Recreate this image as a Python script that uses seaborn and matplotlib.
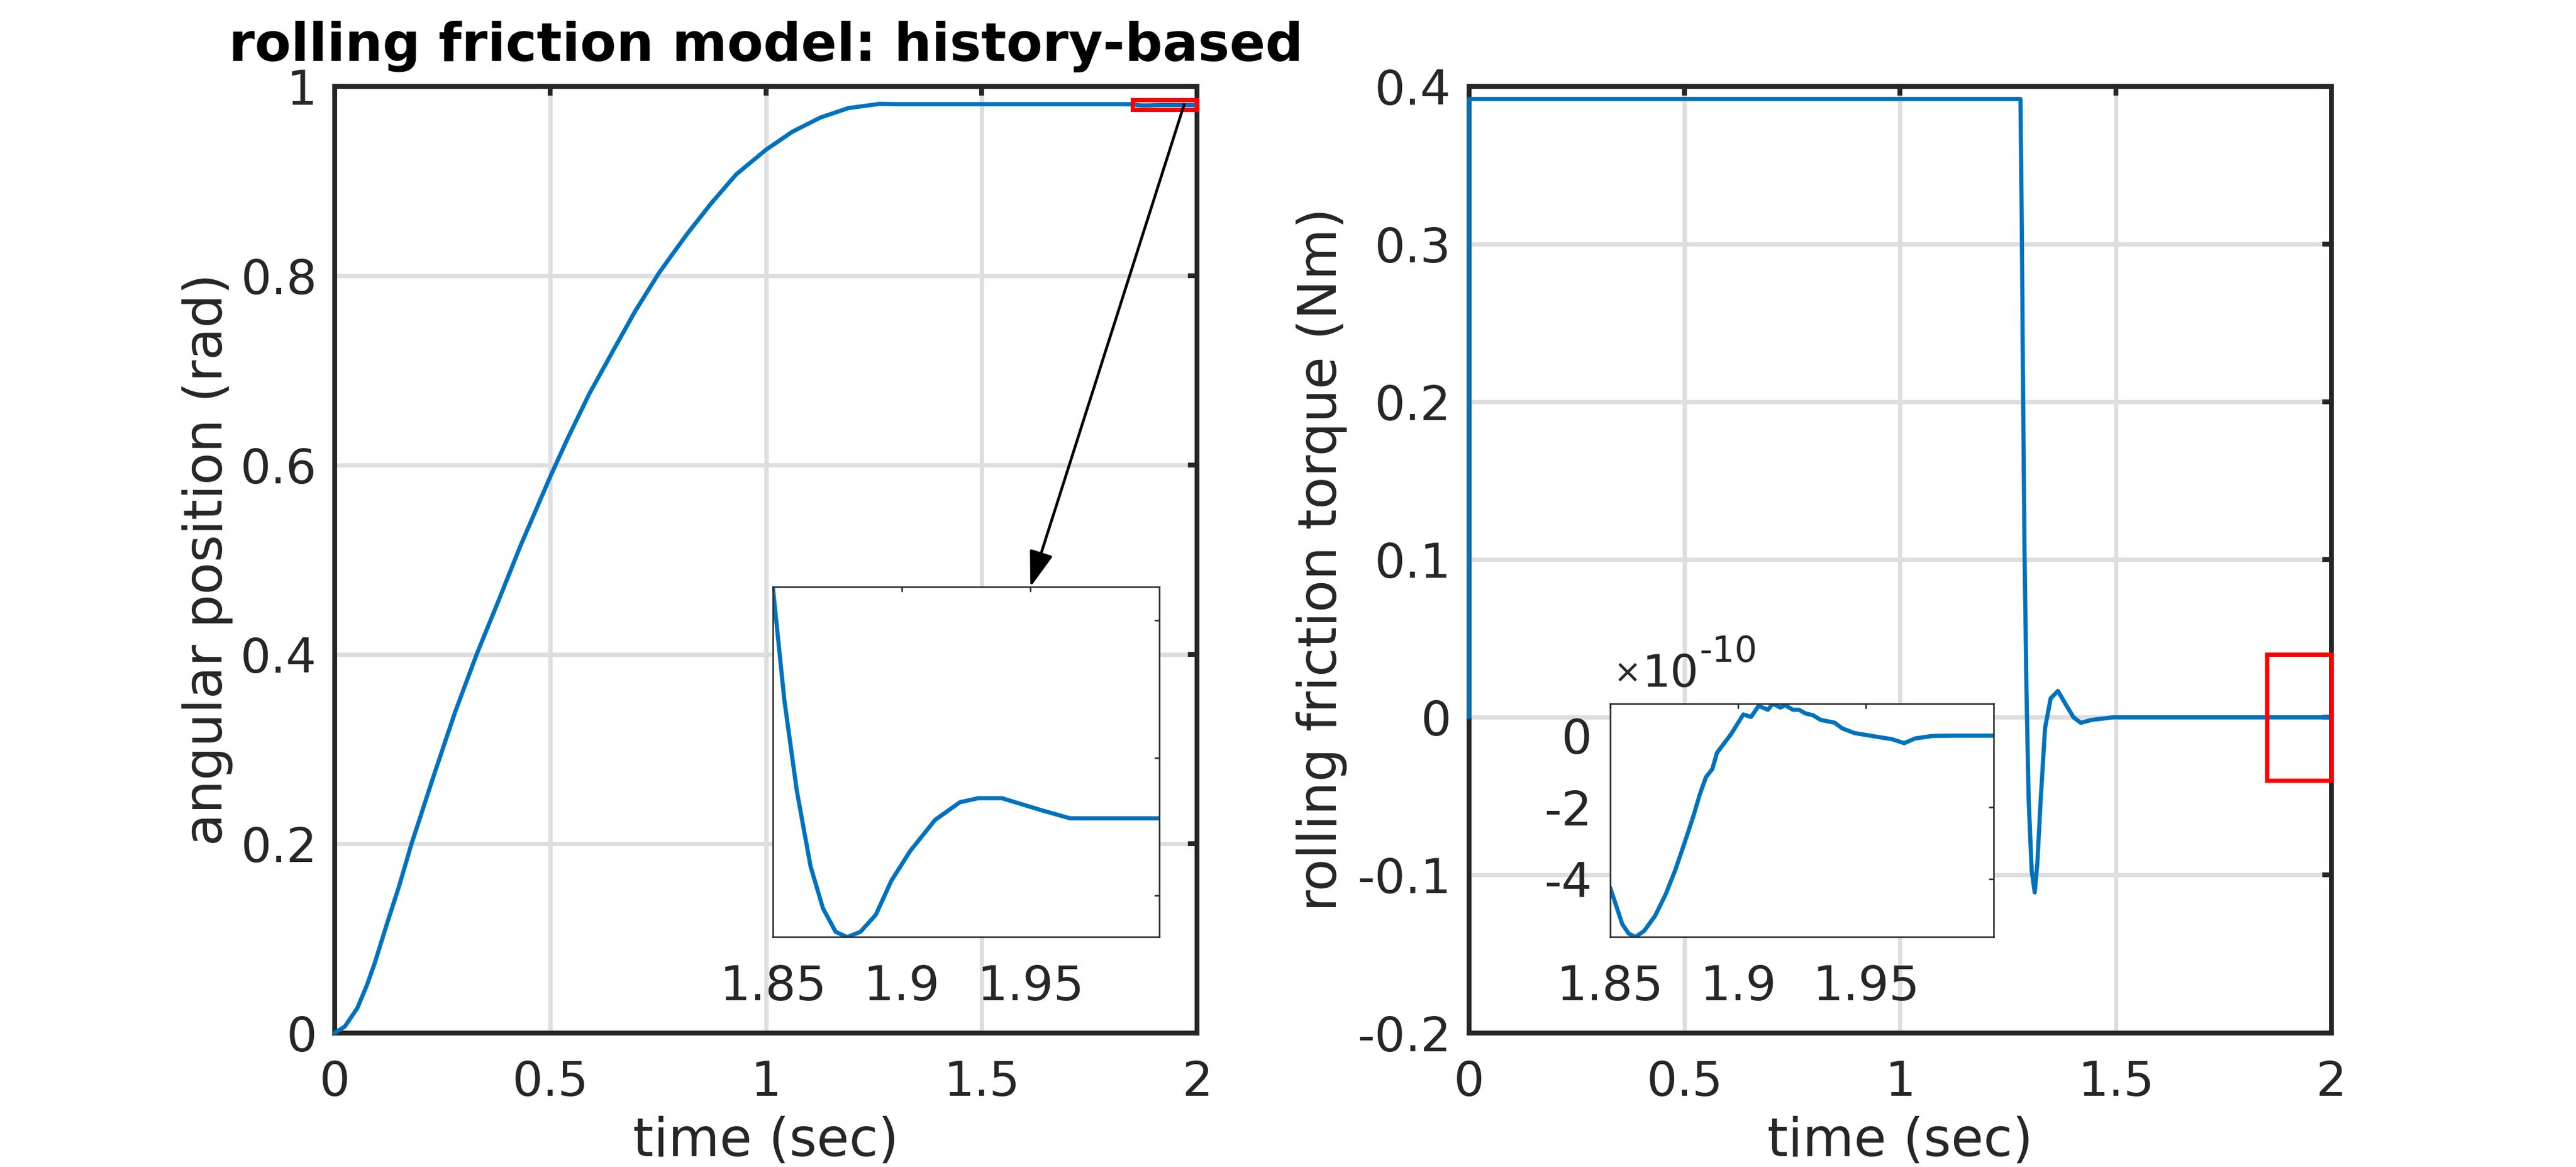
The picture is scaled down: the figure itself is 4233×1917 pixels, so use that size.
import matplotlib
matplotlib.use("Agg")
import matplotlib.pyplot as plt
from matplotlib.patches import Rectangle
import numpy as np
import pandas as pd
import seaborn as sns

# ---- data ----
# angular position (rad), coarse part of the run
pos_time = [0, 0.023, 0.052, 0.074, 0.092, 0.120, 0.149, 0.178, 0.231, 0.279, 0.329,
            0.380, 0.43, 0.5, 0.541, 0.590, 0.647, 0.696, 0.752, 0.817, 0.874, 0.931,
            1.0, 1.061, 1.126, 1.191, 1.264, 1.3, 1.5, 1.7, 1.82]
pos_value = [0, 0.0066, 0.026, 0.050, 0.073, 0.114, 0.155, 0.200, 0.274, 0.339, 0.400,
             0.457, 0.514, 0.588, 0.629, 0.675, 0.722, 0.762, 0.803, 0.844, 0.877, 0.907,
             0.933, 0.952, 0.967, 0.977, 0.9815, 0.9812, 0.9812, 0.9812, 0.9812]
# angular position, zoomed window 1.85..2 s
pos_zoom_time = [1.85, 1.8545, 1.8593, 1.8647, 1.8695, 1.8744, 1.8789, 1.884, 1.890,
                 1.896, 1.9033, 1.913, 1.9226, 1.9298, 1.9389, 1.954, 1.9654, 2.0]
pos_zoom_value = [0.981120, 0.980709, 0.980382, 0.980105, 0.979954, 0.979869,
                  0.979850, 0.979869, 0.979931, 0.980054, 0.980162, 0.980275,
                  0.980339, 0.980354, 0.980354, 0.980311, 0.980281, 0.980281]

# rolling friction torque (Nm), coarse part
trq_time = [0, 0, 1.275, 1.279, 1.2821, 1.2853, 1.2885, 1.293, 1.298, 1.305, 1.312,
            1.318, 1.326, 1.336, 1.349, 1.366, 1.383, 1.402, 1.419, 1.443, 1.494, 1.84]
trq_value = [0, 0.392, 0.392, 0.392, 0.312, 0.2, 0.104, 0.017, -0.052, -0.097, -0.111,
             -0.093, -0.052, -0.007, 0.012, 0.0167, 0.0087, 0, -0.0035, -0.0017, 0, 0]
# torque, zoomed window, in units of 1e-10 Nm
trq_zoom_time = [1.85, 1.8518, 1.8548, 1.8573, 1.8599, 1.8633, 1.8676, 1.8718, 1.8754,
                 1.8791, 1.8827, 1.8851, 1.8875, 1.89, 1.8918, 1.8973, 1.9021, 1.9051,
                 1.9081, 1.9117, 1.9136, 1.9166, 1.9184, 1.9215, 1.9239, 1.9263, 1.9293,
                 1.9323, 1.9378, 1.9408, 1.9456, 1.9541, 1.9602, 1.965, 1.9692, 1.9759,
                 1.9844, 2.0]
trq_zoom_e10 = [-4.23, -4.61, -5.26, -5.52, -5.62, -5.45, -5.03, -4.42, -3.77, -3.0,
                -2.22, -1.64, -1.16, -0.93, -0.48, 0.04, 0.59, 0.52, 0.83, 0.72, 0.89,
                0.78, 0.85, 0.72, 0.72, 0.62, 0.57, 0.44, 0.36, 0.20, 0.07, -0.03, -0.10,
                -0.21, -0.08, -0.01, 0.0, 0.0]

time_ticks = [0, 0.5, 1, 1.5, 2]
time_labels = ['0', '0.5', '1', '1.5', '2']
pos_ticks = [0, 0.2, 0.4, 0.6, 0.8, 1]
pos_labels = ['0', '0.2', '0.4', '0.6', '0.8', '1']
trq_ticks = [-0.2, -0.1, 0, 0.1, 0.2, 0.3, 0.4]
trq_labels = ['-0.2', '-0.1', '0', '0.1', '0.2', '0.3', '0.4']
zoom_ticks = [1.85, 1.9, 1.95]
zoom_labels = ['1.85', '1.9', '1.95']
pos_zoom_ticks = [0.98, 0.9805, 0.981]
trq_zoom_ticks = [-4, -2, 0]
trq_zoom_labels = ['-4', '-2', '0']

BLUE = '#0072BD'
DARK = '#262626'
GRID = '#dedede'

sns.set_style('white')
plt.rcParams['font.family'] = ['DejaVu Sans']
plt.rcParams['axes.unicode_minus'] = False

TICK_FS = 19
LABEL_FS = 20.8
LW = 1.65

pos_df = pd.DataFrame({'time': pos_time + pos_zoom_time, 'value': pos_value + pos_zoom_value})
trq_df = pd.DataFrame({'time': trq_time + trq_zoom_time,
                       'value': trq_value + [v * 1e-10 for v in trq_zoom_e10]})
pos_zoom_df = pd.DataFrame({'time': pos_zoom_time, 'value': pos_zoom_value})
trq_zoom_df = pd.DataFrame({'time': trq_zoom_time, 'value': trq_zoom_e10})

fig = plt.figure(figsize=(4233 / 300, 1917 / 300), dpi=300)
ax1 = fig.add_axes([0.13, 0.115, 0.3347, 0.811])
ax2 = fig.add_axes([0.5703, 0.115, 0.3347, 0.811])


def style_main(ax):
    for s in ax.spines.values():
        s.set_visible(True)
        s.set_color(DARK)
        s.set_linewidth(1.9)
    ax.grid(True, color=GRID, linewidth=1.7)
    ax.set_axisbelow(True)
    ax.tick_params(axis='both', direction='in', top=True, right=True, length=3.6,
                   width=1.9, color=DARK, labelcolor=DARK, labelsize=TICK_FS)
    ax.tick_params(axis='x', pad=10.5)
    ax.tick_params(axis='y', pad=7)


def style_inset(ax):
    ax.set_facecolor('white')
    for s in ax.spines.values():
        s.set_visible(True)
        s.set_color(DARK)
        s.set_linewidth(0.6)
    ax.grid(False)
    ax.tick_params(axis='both', direction='in', top=True, right=True, length=2,
                   width=0.6, color=DARK, labelcolor=DARK, labelsize=TICK_FS)
    ax.tick_params(axis='x', pad=10.5)
    ax.tick_params(axis='y', pad=7)


# left: angular position
sns.lineplot(data=pos_df, x='time', y='value', ax=ax1, color=BLUE, linewidth=LW,
             estimator=None, sort=False, zorder=3, clip_on=False)
ax1.set_xlim(0, 2)
ax1.set_ylim(0, 1)
ax1.set_xticks(time_ticks, time_labels)
ax1.set_yticks(pos_ticks, pos_labels)
ax1.set_xlabel('time (sec)', fontsize=LABEL_FS, color=DARK, labelpad=4)
ax1.set_ylabel('angular position (rad)', fontsize=LABEL_FS, color=DARK, labelpad=3)
ax1.set_title('rolling friction model: history-based', fontsize=LABEL_FS,
              fontweight='bold', color='black', pad=10)
style_main(ax1)
ax1.add_patch(Rectangle((1.85, 0.9755), 0.15, 0.0105, fill=False, edgecolor='red',
                        linewidth=1.7, zorder=5, clip_on=False))

# right: rolling friction torque
sns.lineplot(data=trq_df, x='time', y='value', ax=ax2, color=BLUE, linewidth=LW,
             estimator=None, sort=False, zorder=3, clip_on=False)
ax2.set_xlim(0, 2)
ax2.set_ylim(-0.2, 0.4)
ax2.set_xticks(time_ticks, time_labels)
ax2.set_yticks(trq_ticks, trq_labels)
ax2.set_xlabel('time (sec)', fontsize=LABEL_FS, color=DARK, labelpad=4)
ax2.set_ylabel('rolling friction torque (Nm)', fontsize=LABEL_FS, color=DARK, labelpad=4)
style_main(ax2)
ax2.add_patch(Rectangle((1.85, -0.04), 0.15, 0.08, fill=False, edgecolor='red',
                        linewidth=1.7, zorder=5, clip_on=False))

# inset on the left
in1 = fig.add_axes([0.300, 0.197, 0.150, 0.300])
sns.lineplot(data=pos_zoom_df, x='time', y='value', ax=in1, color=BLUE, linewidth=LW,
             estimator=None, sort=False)
in1.set_xlim(1.85, 2.0)
in1.set_ylim(0.97985, 0.98112)
in1.set_xticks(zoom_ticks, zoom_labels)
in1.set_yticks(pos_zoom_ticks, ['', '', ''])
in1.set_xlabel('')
in1.set_ylabel('')
style_inset(in1)

# inset on the right
in2 = fig.add_axes([0.625, 0.197, 0.149, 0.200])
sns.lineplot(data=trq_zoom_df, x='time', y='value', ax=in2, color=BLUE, linewidth=LW,
             estimator=None, sort=False)
in2.set_xlim(1.85, 2.0)
in2.set_ylim(-5.62, 0.89)
in2.set_xticks(zoom_ticks, zoom_labels)
in2.set_yticks(trq_zoom_ticks, trq_zoom_labels)
in2.set_xlabel('')
in2.set_ylabel('')
style_inset(in2)
# exponent label, MATLAB style
times_sign = in2.text(0.01, 1.06, '\u00d7', transform=in2.transAxes, ha='left',
                      va='bottom', fontsize=13, color=DARK)
ten = in2.annotate('10', xy=(1.0, 0.0), xycoords=times_sign, ha='left', va='bottom',
                   xytext=(0.5, -2.5), textcoords='offset points',
                   fontsize=17.5, color=DARK)
in2.annotate('-10', xy=(1.0, 0.62), xycoords=ten, ha='left', va='bottom',
             fontsize=14, color=DARK)

# arrow from the red box to the left inset
ax1.annotate('', xy=(2 / 3, 1.0), xycoords=in1.transAxes,
             xytext=(1.97, 0.9807), textcoords='data',
             arrowprops=dict(arrowstyle='-|>,head_length=0.6,head_width=0.2',
                             mutation_scale=20, color='black', lw=1.1,
                             shrinkA=0, shrinkB=0),
             zorder=6)

fig.savefig('out.png', dpi=300)
